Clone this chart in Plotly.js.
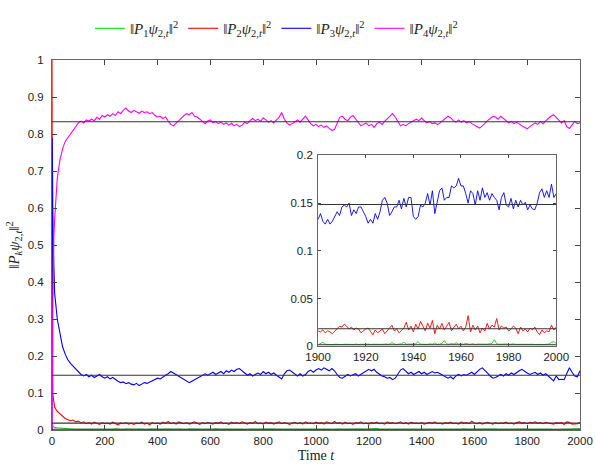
<!DOCTYPE html>
<html>
<head>
<meta charset="utf-8">
<script src="https://cdn.plot.ly/plotly-3.0.1.min.js"></script>
<style>html,body{margin:0;padding:0;background:#fff;}#chart{width:595px;height:464px;}</style>
</head>
<body>
<div id="chart"></div>
<script>
// ---------- data ----------
const earlyT = [0, 1, 2, 3, 5, 7];
const mainStep = 10, mainEnd = 1890;
const insetStart = 1900, insetEnd = 2000;

const seriesNames = [
  '‖<i>P</i><sub>1</sub><i>ψ</i><sub>2,<i>t</i></sub>‖<sup>2</sup>',
  '‖<i>P</i><sub>2</sub><i>ψ</i><sub>2,<i>t</i></sub>‖<sup>2</sup>',
  '‖<i>P</i><sub>3</sub><i>ψ</i><sub>2,<i>t</i></sub>‖<sup>2</sup>',
  '‖<i>P</i><sub>4</sub><i>ψ</i><sub>2,<i>t</i></sub>‖<sup>2</sup>'
];
const seriesColors = ['#00e000', '#ff0000', '#0000ff', '#ff00ff'];

// asymptotic levels (black lines)
const levelsMain = [0.002, 0.0185, 0.148, 0.8333];
const levelsInset = [0.0015, 0.0182, 0.1485];

// magenta, t = 0,1,2,3,5,7 then 10..2000 step 10
const magenta = [0, 0.05, 0.2, 0.33, 0.45, 0.52,
 0.57,0.68,0.73,0.76,0.78,0.79,0.80,0.81,0.82,0.83,
 0.835,0.83,0.838,0.835,0.84,0.836,0.845,0.84,0.85,0.846,
 0.852,0.848,0.855,0.85,0.86,0.855,0.864,0.87,0.862,0.858,
 0.864,0.86,0.856,0.862,0.858,0.86,0.855,0.858,0.85,0.846,
 0.848,0.842,0.846,0.835,0.826,0.822,0.83,0.837,0.843,0.85,
 0.855,0.852,0.858,0.848,0.846,0.84,0.835,0.828,0.835,0.838,
 0.83,0.834,0.828,0.832,0.826,0.83,0.824,0.829,0.822,0.826,
 0.82,0.824,0.832,0.828,0.836,0.842,0.836,0.84,0.834,0.844,
 0.838,0.832,0.836,0.83,0.838,0.845,0.858,0.84,0.83,0.824,
 0.828,0.834,0.838,0.832,0.84,0.848,0.838,0.828,0.822,0.826,
 0.82,0.824,0.818,0.822,0.815,0.81,0.812,0.83,0.845,0.848,
 0.84,0.836,0.845,0.85,0.84,0.83,0.822,0.826,0.83,0.822,
 0.826,0.818,0.828,0.832,0.826,0.834,0.842,0.848,0.855,0.846,
 0.832,0.822,0.826,0.822,0.828,0.832,0.836,0.84,0.836,0.843,
 0.836,0.83,0.834,0.828,0.83,0.826,0.83,0.836,0.842,0.848,
 0.844,0.836,0.832,0.838,0.832,0.836,0.83,0.834,0.828,0.824,
 0.82,0.816,0.822,0.83,0.836,0.842,0.848,0.846,0.84,0.848,
 0.842,0.836,0.83,0.834,0.828,0.832,0.826,0.822,0.818,0.814,
 0.82,0.825,0.83,0.826,0.834,0.828,0.836,0.842,0.848,0.852,
 0.845,0.838,0.83,0.836,0.82,0.815,0.826,0.834,0.828,0.83];

// blue, t = 0,1,2,3,5,7 then 10..1890 step 10
const blueMain = [0, 0.79, 0.7, 0.6, 0.5, 0.42,
 0.37,0.3,0.26,0.225,0.205,0.19,0.18,0.172,0.165,0.156,
 0.15,0.146,0.15,0.144,0.148,0.142,0.146,0.15,0.144,0.14,
 0.144,0.138,0.142,0.136,0.132,0.128,0.13,0.125,0.128,0.124,
 0.122,0.126,0.12,0.124,0.128,0.126,0.13,0.132,0.136,0.14,
 0.138,0.144,0.148,0.152,0.158,0.154,0.15,0.146,0.14,0.136,
 0.132,0.128,0.132,0.136,0.14,0.146,0.15,0.152,0.148,0.152,
 0.156,0.15,0.155,0.158,0.152,0.16,0.156,0.162,0.158,0.164,
 0.166,0.16,0.152,0.148,0.152,0.146,0.15,0.154,0.15,0.158,
 0.152,0.156,0.15,0.154,0.148,0.144,0.138,0.152,0.16,0.162,
 0.156,0.15,0.146,0.152,0.146,0.15,0.158,0.162,0.156,0.162,
 0.166,0.162,0.168,0.164,0.16,0.166,0.16,0.15,0.142,0.14,
 0.146,0.15,0.146,0.148,0.152,0.146,0.15,0.156,0.16,0.164,
 0.16,0.164,0.156,0.15,0.146,0.144,0.14,0.142,0.136,0.14,
 0.15,0.162,0.166,0.158,0.152,0.156,0.15,0.154,0.158,0.152,
 0.156,0.15,0.154,0.158,0.154,0.156,0.152,0.148,0.142,0.14,
 0.144,0.138,0.146,0.15,0.146,0.15,0.148,0.152,0.156,0.15,
 0.158,0.164,0.168,0.162,0.154,0.146,0.14,0.142,0.146,0.15,
 0.146,0.152,0.148,0.154,0.15,0.156,0.16,0.164,0.158,0.154,
 0.15,0.154,0.156,0.15,0.154,0.148,0.152,0.146,0.14];

// red, t = 0,1,2,3,5,7 then 10..1890 step 10
const redMain = [1, 0.16, 0.12, 0.1, 0.085, 0.07,
 0.062,0.05,0.043,0.036,0.031,0.028,0.025,0.027,0.022,0.024,
 0.019,0.022,0.017,0.020,0.016,0.021,0.018,0.015,0.020,0.017,
 0.019,0.016,0.021,0.018,0.014,0.019,0.017,0.020,0.016,0.018,
 0.015,0.019,0.017,0.021,0.016,0.018,0.014,0.020,0.017,0.019,
 0.016,0.021,0.018,0.023,0.017,0.020,0.016,0.022,0.019,0.017,
 0.020,0.016,0.019,0.022,0.018,0.015,0.020,0.017,0.021,0.018,
 0.016,0.020,0.018,0.022,0.017,0.019,0.015,0.021,0.018,0.020,
 0.017,0.022,0.019,0.016,0.020,0.018,0.023,0.017,0.019,0.016,
 0.021,0.018,0.020,0.016,0.019,0.022,0.017,0.020,0.018,0.015,
 0.019,0.021,0.017,0.020,0.016,0.022,0.018,0.019,0.017,0.021,
 0.018,0.020,0.016,0.022,0.019,0.017,0.023,0.018,0.020,0.016,
 0.021,0.017,0.019,0.015,0.020,0.018,0.022,0.017,0.019,0.016,
 0.020,0.018,0.021,0.017,0.019,0.016,0.022,0.018,0.020,0.017,
 0.019,0.022,0.017,0.020,0.016,0.021,0.018,0.019,0.017,0.020,
 0.016,0.019,0.021,0.018,0.022,0.017,0.019,0.016,0.020,0.018,
 0.021,0.017,0.019,0.016,0.022,0.018,0.020,0.017,0.024,0.019,
 0.017,0.020,0.016,0.019,0.021,0.018,0.016,0.020,0.017,0.019,
 0.018,0.021,0.017,0.019,0.016,0.020,0.022,0.018,0.020,0.017,
 0.021,0.019,0.022,0.018,0.020,0.017,0.021,0.019,0.018];

// green, t = 0,1,2,3,5,7 then 10..1890 step 10
const greenMain = [0, 0.012, 0.011, 0.01, 0.009, 0.008,
 0.007,0.006,0.005,0.004,0.0035,0.003,0.0028,0.0025,0.0024,0.0022,
 0.0020,0.0025,0.0018,0.0022,0.0016,0.0024,0.0020,0.0028,0.0017,0.0021,
 0.0019,0.0023,0.0016,0.0030,0.0018,0.0021,0.0015,0.0024,0.0019,0.0022,
 0.0017,0.0021,0.0026,0.0018,0.0020,0.0015,0.0023,0.0019,0.0035,0.0018,
 0.0021,0.0016,0.0024,0.0019,0.0022,0.0017,0.0020,0.0027,0.0018,0.0021,
 0.0015,0.0023,0.0019,0.0021,0.0017,0.0025,0.0018,0.0020,0.0016,0.0022,
 0.0019,0.0031,0.0018,0.0021,0.0016,0.0023,0.0019,0.0020,0.0017,0.0024,
 0.0018,0.0021,0.0015,0.0022,0.0019,0.0026,0.0017,0.0020,0.0018,0.0023,
 0.0016,0.0021,0.0019,0.0024,0.0017,0.0020,0.0033,0.0018,0.0021,0.0016,
 0.0022,0.0019,0.0020,0.0017,0.0025,0.0018,0.0021,0.0016,0.0023,0.0019,
 0.0020,0.0017,0.0024,0.0018,0.0021,0.0015,0.0022,0.0019,0.0028,0.0018,
 0.0021,0.0016,0.0023,0.0019,0.0020,0.0017,0.0024,0.0018,0.0021,0.0016,
 0.0022,0.0019,0.0036,0.0018,0.0020,0.0017,0.0023,0.0019,0.0021,0.0016,
 0.0024,0.0018,0.0020,0.0017,0.0022,0.0019,0.0021,0.0015,0.0023,0.0018,
 0.0020,0.0026,0.0017,0.0021,0.0019,0.0022,0.0016,0.0024,0.0018,0.0020,
 0.0017,0.0023,0.0019,0.0021,0.0016,0.0030,0.0018,0.0020,0.0017,0.0022,
 0.0019,0.0021,0.0016,0.0024,0.0018,0.0020,0.0017,0.0023,0.0019,0.0021,
 0.0016,0.0022,0.0018,0.0020,0.0025,0.0017,0.0021,0.0019,0.0023,0.0018,
 0.0020,0.0017,0.0022,0.0019,0.0021,0.0016,0.0024,0.0018,0.0020];

// full resolution, t = 1900..2000
const blueInset = [
 0.133,0.139,0.131,0.128,0.133,0.128,0.131,0.137,0.141,0.137,
 0.146,0.148,0.146,0.150,0.137,0.143,0.139,0.146,0.146,0.141,
 0.136,0.129,0.133,0.129,0.139,0.133,0.141,0.153,0.156,0.150,
 0.137,0.141,0.146,0.146,0.153,0.144,0.155,0.146,0.156,0.156,
 0.136,0.133,0.136,0.148,0.146,0.150,0.160,0.148,0.163,0.139,
 0.153,0.163,0.166,0.153,0.156,0.156,0.168,0.166,0.168,0.176,
 0.168,0.168,0.160,0.150,0.163,0.160,0.148,0.163,0.153,0.166,
 0.156,0.161,0.153,0.160,0.156,0.153,0.143,0.156,0.161,0.148,
 0.146,0.155,0.144,0.153,0.146,0.153,0.148,0.151,0.143,0.148,
 0.144,0.143,0.150,0.161,0.165,0.156,0.163,0.156,0.170,0.156,
 0.160];
const redInset = [
 0.016,0.015,0.017,0.014,0.016,0.015,0.013,0.016,0.018,0.021,
 0.020,0.023,0.021,0.018,0.020,0.017,0.019,0.018,0.014,0.016,
 0.018,0.019,0.015,0.012,0.017,0.014,0.016,0.018,0.013,0.016,
 0.020,0.022,0.016,0.018,0.014,0.017,0.019,0.025,0.017,0.021,
 0.015,0.023,0.018,0.026,0.021,0.016,0.024,0.019,0.027,0.013,
 0.022,0.018,0.024,0.017,0.021,0.025,0.016,0.019,0.023,0.018,
 0.021,0.016,0.020,0.032,0.015,0.022,0.017,0.021,0.014,0.019,
 0.016,0.024,0.018,0.022,0.020,0.029,0.017,0.021,0.019,0.020,
 0.016,0.018,0.021,0.019,0.013,0.020,0.016,0.018,0.015,0.019,
 0.017,0.020,0.015,0.012,0.017,0.014,0.016,0.015,0.022,0.017,
 0.020];
const greenInset = [
 0.0015,0.0025,0.0040,0.0020,0.0018,0.0022,0.0016,0.0020,0.0018,0.0021,
 0.0017,0.0020,0.0019,0.0016,0.0021,0.0018,0.0022,0.0017,0.0020,0.0016,
 0.0019,0.0022,0.0017,0.0020,0.0018,0.0021,0.0016,0.0019,0.0022,0.0018,
 0.0020,0.0038,0.0022,0.0018,0.0021,0.0025,0.0040,0.0019,0.0022,0.0018,
 0.0021,0.0026,0.0048,0.0020,0.0018,0.0022,0.0019,0.0024,0.0020,0.0035,
 0.0018,0.0022,0.0030,0.0058,0.0024,0.0020,0.0028,0.0022,0.0035,0.0021,
 0.0025,0.0019,0.0030,0.0022,0.0020,0.0026,0.0018,0.0022,0.0020,0.0024,
 0.0019,0.0021,0.0025,0.0030,0.0068,0.0026,0.0020,0.0022,0.0019,0.0023,
 0.0018,0.0021,0.0024,0.0019,0.0020,0.0017,0.0022,0.0019,0.0021,0.0018,
 0.0020,0.0017,0.0021,0.0019,0.0016,0.0020,0.0018,0.0022,0.0040,0.0048,
 0.0030];

// ---------- time axes ----------
const stepT = [];
for (let t = mainStep; t <= mainEnd; t += mainStep) stepT.push(t);
const insetT = [];
for (let t = insetStart; t <= insetEnd; t++) insetT.push(t);
const magT = earlyT.slice();
for (let t = mainStep; t <= insetEnd; t += mainStep) magT.push(t);
// main panel uses every 10th inset sample so the sampling stays uniform
const tailIdx = insetT.map((t, i) => i).filter(i => insetT[i] % mainStep === 0);
const tailT = tailIdx.map(i => insetT[i]);
const mainT = earlyT.concat(stepT).concat(tailT);

const greenAll = greenMain.concat(tailIdx.map(i => greenInset[i]));
const redAll = redMain.concat(tailIdx.map(i => redInset[i]));
const blueAll = blueMain.concat(tailIdx.map(i => blueInset[i]));

const LW = 1.1;
const traces = [];
const allSeries = [[mainT, greenAll], [mainT, redAll], [mainT, blueAll], [magT, magenta]];
allSeries.forEach((s, i) => {
  traces.push({x: s[0], y: s[1], type: 'scatter', mode: 'lines', name: seriesNames[i],
    line: {color: seriesColors[i], width: LW}, xaxis: 'x', yaxis: 'y'});
});
// inset series
[[insetT, greenInset, 0], [insetT, redInset, 1], [insetT, blueInset, 2]].forEach(s => {
  traces.push({x: s[0], y: s[1], type: 'scatter', mode: 'lines', showlegend: false,
    line: {color: seriesColors[s[2]], width: 0.9}, xaxis: 'x2', yaxis: 'y2'});
});
// asymptotic levels
levelsMain.forEach(v => traces.push({x: [0, insetEnd], y: [v, v], type: 'scatter', mode: 'lines',
  showlegend: false, line: {color: '#333', width: 1.1}, xaxis: 'x', yaxis: 'y'}));
levelsInset.forEach(v => traces.push({x: [insetStart, insetEnd], y: [v, v], type: 'scatter', mode: 'lines',
  showlegend: false, line: {color: '#333', width: 1.1}, xaxis: 'x2', yaxis: 'y2'}));

const serif = 'Liberation Serif, DejaVu Serif, serif';
const tickFont = {family: 'Liberation Sans, Arial, sans-serif', size: 11.5, color: '#222'};
const axBase = {showline: true, mirror: 'ticks', linecolor: '#666', linewidth: 1, ticks: 'inside',
  tickcolor: '#444', showgrid: false, zeroline: false, tickfont: tickFont};

const layout = {
  width: 595, height: 464,
  margin: {l: 52, r: 15, t: 46, b: 34},
  paper_bgcolor: '#fff', plot_bgcolor: '#fff',
  showlegend: true,
  legend: {orientation: 'h', x: 0.425, xanchor: 'center', y: 1.085, yanchor: 'middle',
    font: {family: serif, size: 15, color: '#222'},
    itemwidth: 30, bgcolor: 'rgba(0,0,0,0)', tracegroupgap: 0},
  xaxis: Object.assign({}, axBase, {domain: [0, 1], range: [0, 2000], tick0: 0, dtick: 200, ticklen: 5,
    anchor: 'y',
    title: {text: 'Time <i>t</i>', standoff: 4, font: {family: serif, size: 14, color: '#222'}}}),
  yaxis: Object.assign({}, axBase, {domain: [0, 1], range: [0, 1], tick0: 0, dtick: 0.1, ticklen: 5,
    anchor: 'x', ticklabelstandoff: 5,
    title: {text: '‖<i>P</i><sub><i>k</i></sub><i>ψ</i><sub>2,<i>t</i></sub>‖<sup>2</sup>', standoff: 4,
      font: {family: serif, size: 15, color: '#222'}}}),
  xaxis2: Object.assign({}, axBase, {domain: [0.504, 0.955], range: [1900, 2000], tick0: 1900, dtick: 20,
    ticklen: 3, anchor: 'y2'}),
  yaxis2: Object.assign({}, axBase, {domain: [0.2266, 0.742], range: [0, 0.2], tick0: 0, dtick: 0.05,
    ticklen: 3, anchor: 'x2', ticklabelstandoff: 2}),
  shapes: [{type: 'rect', xref: 'x2 domain', yref: 'y2 domain', x0: 0, x1: 1, y0: 0, y1: 1,
    fillcolor: '#fff', line: {width: 0}, layer: 'below'}]
};

Plotly.newPlot('chart', traces, layout, {staticPlot: true, displayModeBar: false});
</script>
</body>
</html>
